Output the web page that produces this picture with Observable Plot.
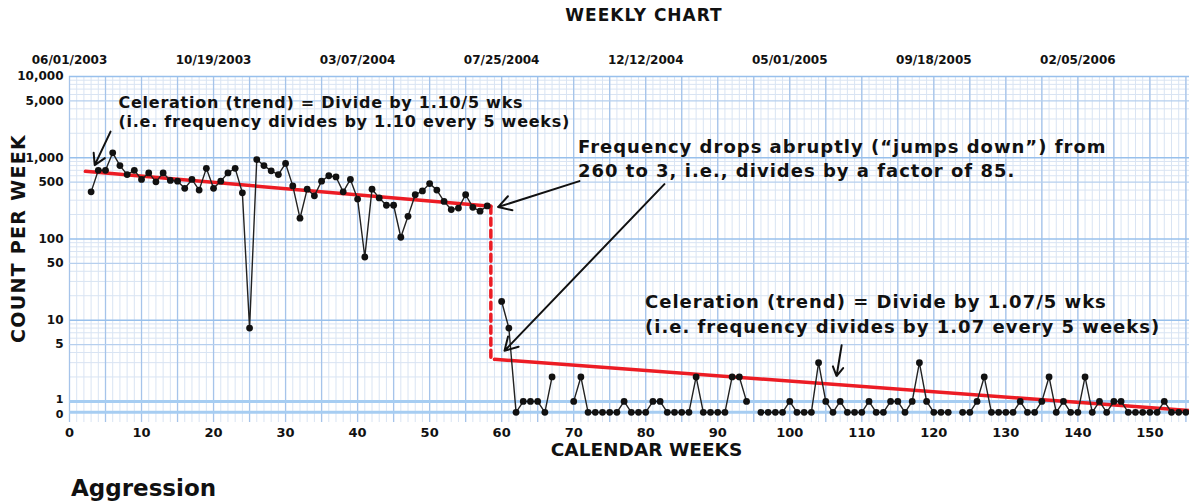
<!DOCTYPE html>
<html>
<head>
<meta charset="utf-8">
<script src="https://cdn.jsdelivr.net/npm/d3@7"></script>
<script src="https://cdn.jsdelivr.net/npm/@observablehq/plot@0.6"></script>
<style>
  html, body { margin: 0; padding: 0; background: #fff; }
  #wrap { position: relative; width: 1189px; height: 504px; overflow: hidden; font-family: "DejaVu Sans", sans-serif; }
  #title { position: absolute; top: 5px; left: 0; width: 1189px; padding-left: 99px; box-sizing: border-box; text-align: center; font-weight: bold; font-size: 17px; letter-spacing: 1px; color: #111; z-index: 2; }
  #caption { position: absolute; top: 475px; left: 71px; font-weight: bold; font-size: 23px; color: #111; }
  #chart { position: absolute; top: 0; left: 0; }
</style>
</head>
<body>
<div id="wrap">
  <div id="chart"></div>
  <div id="title">WEEKLY CHART</div>
  <div id="caption">Aggression</div>
</div>
<script>
// ---- Data ----
const phase1Weeks = d3.range(3, 59);
const phase1Counts = [380, 700, 700, 1150, 800, 620, 700, 540, 650, 505,
  650, 525, 515, 420, 540, 400, 740, 420, 515, 650,
  740, 370, 8, 950, 800, 690, 620, 850, 450, 180,
  410, 340, 515, 600, 580, 380, 540, 310, 60, 410,
  320, 260, 260, 105, 190, 350, 390, 480, 400, 290,
  230, 240, 350, 245, 220, 255];

const phase2Weeks = d3.range(60, 156);
const phase2Counts = [17, 8, 0, 1, 1, 1, 0, 2, null, null,
  1, 2, 0, 0, 0, 0, 0, 1, 0, 0,
  0, 1, 1, 0, 0, 0, 0, 2, 0, 0,
  0, 0, 2, 2, 1, null, 0, 0, 0, 0,
  1, 0, 0, 0, 3, 1, 0, 1, 0, 0,
  0, 1, 0, 0, 1, 1, 0, 1, 3, 1,
  0, 0, 0, null, 0, 0, 1, 2, 0, 0,
  0, 0, 1, 0, 0, 1, 2, 0, 1, 0,
  0, 2, 0, 1, 0, 1, 1, 0, 0, 0,
  0, 0, 1, 0, 0, 0];

// celeration (trend) lines: [week, count]
const trend1 = [[2.2, 680], [58.5, 252]];
const trend2 = [[59.0, 3.3], [155.5, 0.77]];
const jumpWeek = 58.5;

// tick labels
const xTicks = d3.range(0, 151, 10);
const dateWeeks = [0, 20, 40, 60, 80, 100, 120, 140];
const dateLabels = ["06/01/2003", "10/19/2003", "03/07/2004", "07/25/2004", "12/12/2004", "05/01/2005", "09/18/2005", "02/05/2006"];
const ZERO = 0.733; // display position of a zero count (below 1 on the chart)
const yTickValues = [ZERO, 1, 5, 10, 50, 100, 500, 1000, 5000, 10000];
const yTickLabels = ["0", "1", "5", "10", "50", "100", "500", "1,000", "5,000", "10,000"];

// annotations (anchored in data space: week, count)
const notes = [
  {week: 6.8, count: 4800, size: 16, spacing: 0.75, text: "Celeration (trend) = Divide by 1.10/5 wks"},
  {week: 6.8, count: 2730, size: 16, spacing: 0.75, text: "(i.e. frequency divides by 1.10 every 5 weeks)"},
  {week: 70.6, count: 1345, size: 18, spacing: 1, text: "Frequency drops abruptly (\u201cjumps down\u201d) from"},
  {week: 70.6, count: 683, size: 18, spacing: 1, text: "260 to 3, i.e., divides by a factor of 85."},
  {week: 79.9, count: 16.4, size: 18, spacing: 1, text: "Celeration (trend) = Divide by 1.07/5 wks"},
  {week: 79.9, count: 8.1, size: 18, spacing: 1, text: "(i.e. frequency divides by 1.07 every 5 weeks)"}
];
const arrows = [
  {x1: 5.7, y1: 2100, x2: 3.5, y2: 810},
  {x1: 70.8, y1: 515, x2: 59.5, y2: 247},
  {x1: 82.6, y1: 473, x2: 60.4, y2: 4.2},
  {x1: 107.2, y1: 4.9, x2: 106.5, y2: 2.05}
];

// ---- Build tables ----
const toY = c => (c == null ? NaN : (c === 0 ? ZERO : c));
const phase1 = phase1Weeks.map((w, i) => ({week: w, count: phase1Counts[i]}));
const phase2 = phase2Weeks.map((w, i) => ({week: w, count: phase2Counts[i]}));
const allPts = phase1.concat(phase2).filter(d => d.count != null);
const t1 = trend1.map(([w, c]) => ({week: w, count: c}));
const t2 = trend2.map(([w, c]) => ({week: w, count: c}));
const jump = [{week: jumpWeek, count: trend1[1][1]}, {week: jumpWeek, count: trend2[0][1]}];
const yTicks = yTickValues.map((v, i) => ({value: v, label: yTickLabels[i]}));
const yTicksUpper = yTicks.filter(d => d.value > 1);
const yTickOne = yTicks.filter(d => d.value === 1);
const yTickZero = yTicks.filter(d => d.value === ZERO);

// grid
const weekLines = d3.range(0, 156);
const fiveWeekLines = d3.range(0, 156, 5);
const minorY = [];
for (const p of [1, 10, 100, 1000]) for (let k = 2; k <= 9; k++) if (k !== 5) minorY.push(k * p);
const fiveY = [5, 50, 500, 5000];
const decadeY = [10, 100, 1000, 10000];
const dateMap = new Map(dateWeeks.map((v, i) => [v, dateLabels[i]]));

const tickText = {y: "value", text: "label", frameAnchor: "left", textAnchor: "end", dx: -6, fontWeight: "bold", fill: "#111"};

const chart = Plot.plot({
  width: 1189,
  height: 470,
  marginLeft: 69,
  marginRight: 0,
  marginTop: 76,
  marginBottom: 48,
  style: {fontFamily: "DejaVu Sans, sans-serif", fontWeight: "bold", color: "#111", background: "white"},
  x: {domain: [0, 155.5]},
  y: {type: "log", domain: [0.55, 10000], axis: null},
  marks: [
    Plot.ruleX(weekLines, {x: d => d, stroke: "#d9e4f3", strokeWidth: 1}),
    Plot.ruleY(minorY, {y: d => d, stroke: "#d9e4f3", strokeWidth: 1}),
    Plot.ruleX(fiveWeekLines, {x: d => d, stroke: "#a6c4ea", strokeWidth: 1.3}),
    Plot.ruleY(fiveY, {y: d => d, stroke: "#b6cfee", strokeWidth: 1.2}),
    Plot.ruleY(decadeY, {y: d => d, stroke: "#98c0ec", strokeWidth: 1.6}),
    Plot.ruleY([1, ZERO], {y: d => d, stroke: "#a6cdf2", strokeWidth: 3}),
    Plot.axisX({anchor: "bottom", ticks: xTicks, tickSize: 0, tickPadding: 5, fontSize: 13, fontWeight: "bold", label: null}),
    Plot.axisX({anchor: "top", ticks: dateWeeks, tickFormat: d => dateMap.get(d), tickSize: 0, tickPadding: 13, fontSize: 12, fontWeight: "bold", label: null}),
    Plot.text(yTicksUpper, {...tickText, fontSize: 12}),
    Plot.text(yTickOne, {...tickText, fontSize: 11, dy: -1.5}),
    Plot.text(yTickZero, {...tickText, fontSize: 11, dy: 2}),
    Plot.text(["CALENDAR WEEKS"], {frameAnchor: "bottom", textAnchor: "middle", dx: 17, dy: 33, fontSize: 18.5, fontWeight: "bold", fill: "#111"}),
    Plot.text(["COUNT PER WEEK"], {frameAnchor: "left", textAnchor: "middle", rotate: -90, dx: -51, dy: -11, fontSize: 19, fontWeight: "bold", fill: "#111"}),
    Plot.line(t1, {x: "week", y: "count", stroke: "#ec1c24", strokeWidth: 3.5}),
    Plot.line(t2, {x: "week", y: "count", stroke: "#ec1c24", strokeWidth: 3.5}),
    Plot.line(jump, {x: "week", y: "count", stroke: "#ec1c24", strokeWidth: 3.5, strokeDasharray: "7,5"}),
    Plot.line(phase1, {x: "week", y: d => toY(d.count), stroke: "#222", strokeWidth: 1.4}),
    Plot.line(phase2, {x: "week", y: d => toY(d.count), stroke: "#222", strokeWidth: 1.4}),
    Plot.dot(allPts, {x: "week", y: d => toY(d.count), r: 3.4, fill: "#111"}),
    Plot.arrow(arrows, {x1: "x1", y1: "y1", x2: "x2", y2: "y2", stroke: "#111", strokeWidth: 2, headLength: 11}),
    Plot.text(notes, {x: "week", y: "count", text: "text", textAnchor: "start", fontSize: d => d.size, fontWeight: "bold", fill: "#111"})
  ]
});

// letter spacing for wide, heavy annotation lettering
const spacingByText = new Map(notes.map(n => [n.text, n.spacing]));
spacingByText.set("COUNT PER WEEK", 1.3);
d3.select(chart).selectAll("text").each(function () {
  const s = spacingByText.get(this.textContent);
  if (s != null) this.setAttribute("letter-spacing", s);
});
document.getElementById("chart").appendChild(chart);
</script>
</body>
</html>
